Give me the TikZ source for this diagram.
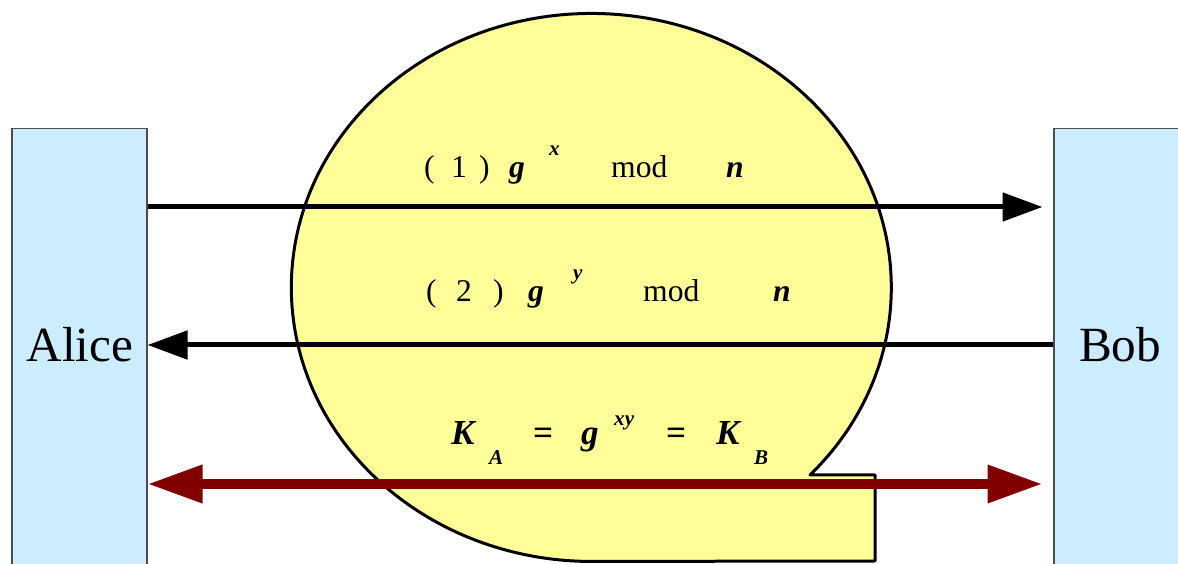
\documentclass[tikz,border=0pt]{standalone}
\usepackage{fontspec}
\setmainfont{Liberation Serif}
\usetikzlibrary{arrows.meta}

\definecolor{bubble}{HTML}{FFFF99}
\definecolor{partyblue}{HTML}{CCECFF}
\definecolor{keyred}{HTML}{800000}

\newlength\pxu \setlength\pxu{0.02cm}
\newcommand\putat[2]{\rlap{\hspace*{#1\pxu}#2}}
\newcommand\bi[1]{\textbf{\textit{#1}}}

\tikzset{
  party/.style={draw=black!70, fill=partyblue, line width=0.6pt, minimum width=2.7cm, minimum height=9.44cm, inner sep=0pt},
  who/.style={font=\fontsize{28}{30}\selectfont},
  lbl/.style={anchor=base west, inner sep=0pt, font=\fontsize{18}{20}\selectfont},
  msg/.style={line width=0.1cm, -{Triangle[length=0.8cm, width=0.56cm]}},
  keyline/.style={keyred, line width=0.2cm, {Triangle[length=1.1cm, width=0.72cm]}-{Triangle[length=1.1cm, width=0.72cm]}},
}

\begin{document}
\begin{tikzpicture}[x=0.02cm, y=-0.02cm]
  \clip (0,0) rectangle (1178,564);

  % eavesdropper bubble
  \draw[fill=bubble, line width=0.06cm, line join=round]
    (810,475) arc[start angle=43.2, end angle=-270, x radius=300, y radius=274]
    -- (875,561) -- (875,475) -- cycle;

  % the two parties
  \node[party] (alice) at (79.5,364) {};
  \node[party] (bob) at (1121.5,364) {};
  \node[who] (alicetxt) at (80,345) {Alice};
  \node[who] (bobtxt) at (1120,345) {Bob};

  \coordinate (m1) at (0,207);
  \coordinate (m2) at (0,345);
  \coordinate (m3) at (0,484);
  \coordinate (bobin) at ([xshift=-0.22cm]bob.west);

  % messages
  \draw[msg] (alice.east |- m1) -- (bobin |- m1);
  \draw[msg] (bob.west |- m2) -- (alice.east |- m2);
  \draw[keyline] (alice.east |- m3) -- (bobin |- m3);

  % labels
  \node[lbl] (labone) at (423,178) {\putat{0}{(}\putat{27}{1}\putat{55}{)}\putat{85}{\bi{g}}%
    \putat{125}{\raisebox{13pt}{\fontsize{12}{13}\selectfont\bi{x}}}\putat{187}{mod}\putat{302}{\bi{n}}};
  \node[lbl] (labtwo) at (425,302) {\putat{0}{(}\putat{30}{2}\putat{67}{)}\putat{102}{\bi{g}}%
    \putat{147}{\raisebox{13pt}{\fontsize{12}{13}\selectfont\bi{y}}}\putat{217}{mod}\putat{347}{\bi{n}}};
  \node[lbl, font=\fontsize{20}{22}\selectfont] (labkey) at (450,445) {\putat{0}{\bi{K}}%
    \putat{38}{\raisebox{-11pt}{\fontsize{12}{13}\selectfont\bi{A}}}\putat{82}{\textbf{=}}\putat{130}{\bi{g}}%
    \putat{163}{\raisebox{11pt}{\fontsize{12}{13}\selectfont\bi{xy}}}\putat{215}{\textbf{=}}\putat{265}{\bi{K}}%
    \putat{303}{\raisebox{-11pt}{\fontsize{12}{13}\selectfont\bi{B}}}};
\end{tikzpicture}
\end{document}
